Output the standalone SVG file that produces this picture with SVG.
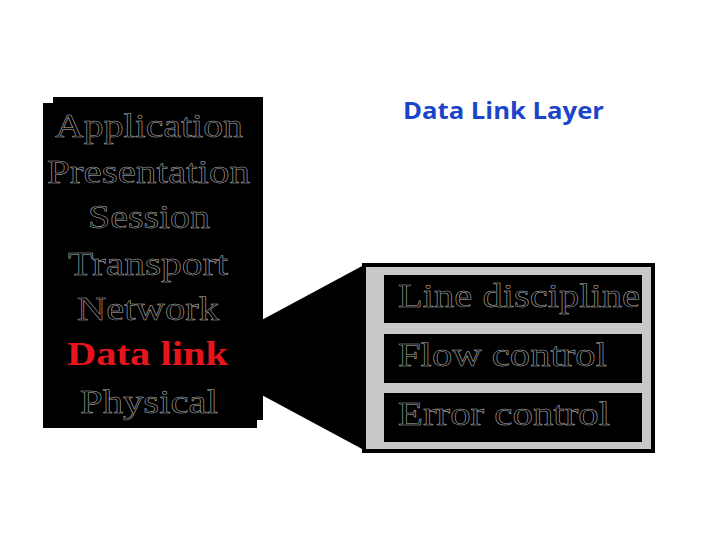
<svg xmlns="http://www.w3.org/2000/svg" width="720" height="540" viewBox="0 0 720 540">
<style>
.hollow{font-family:"Liberation Serif","DejaVu Serif",serif;font-size:33px;fill:#000;stroke:#b4b4b4;stroke-width:0.5;text-anchor:start}
.red{font-family:"Liberation Serif","DejaVu Serif",serif;font-size:33px;font-weight:bold;fill:#e8141c}
.title{font-family:"Open Sans","Liberation Sans",sans-serif;font-size:24px;font-weight:bold;fill:#1b45c9}
</style>
<rect width="720" height="540" fill="#fff"/>
<g id="title"><text class="title" x="403" y="119" textLength="201" lengthAdjust="spacingAndGlyphs">Data Link Layer</text></g>
<g id="connectors">
<polygon points="258,322 364,265 364,450 258,393" fill="#000"/>
</g>
<g id="osi-stack">
<rect x="53" y="97" width="210" height="323" fill="#000"/>
<rect x="43" y="103" width="214" height="325" fill="#000"/>
<text class="hollow" x="55" y="137" textLength="188" lengthAdjust="spacingAndGlyphs">Application</text>
<text class="hollow" x="47" y="183" textLength="203" lengthAdjust="spacingAndGlyphs">Presentation</text>
<text class="hollow" x="88" y="228" textLength="122" lengthAdjust="spacingAndGlyphs">Session</text>
<text class="hollow" x="68" y="275" textLength="160" lengthAdjust="spacingAndGlyphs">Transport</text>
<text class="hollow" x="77" y="320" textLength="142" lengthAdjust="spacingAndGlyphs">Network</text>
<text class="red" x="67" y="365" textLength="161" lengthAdjust="spacingAndGlyphs">Data link</text>
<text class="hollow" x="80" y="413" textLength="138" lengthAdjust="spacingAndGlyphs">Physical</text>
</g>
<g id="sublayers">
<rect x="364" y="265" width="289" height="186" fill="#c8c8c8" stroke="#000" stroke-width="4"/>
<rect x="384" y="275" width="258" height="48" fill="#000"/>
<rect x="384" y="334" width="258" height="49" fill="#000"/>
<rect x="384" y="393" width="258" height="49" fill="#000"/>
<text class="hollow" x="398" y="307" textLength="242" lengthAdjust="spacingAndGlyphs">Line discipline</text>
<text class="hollow" x="398" y="366" textLength="209" lengthAdjust="spacingAndGlyphs">Flow control</text>
<text class="hollow" x="398" y="425" textLength="212" lengthAdjust="spacingAndGlyphs">Error control</text>
</g>
</svg>
